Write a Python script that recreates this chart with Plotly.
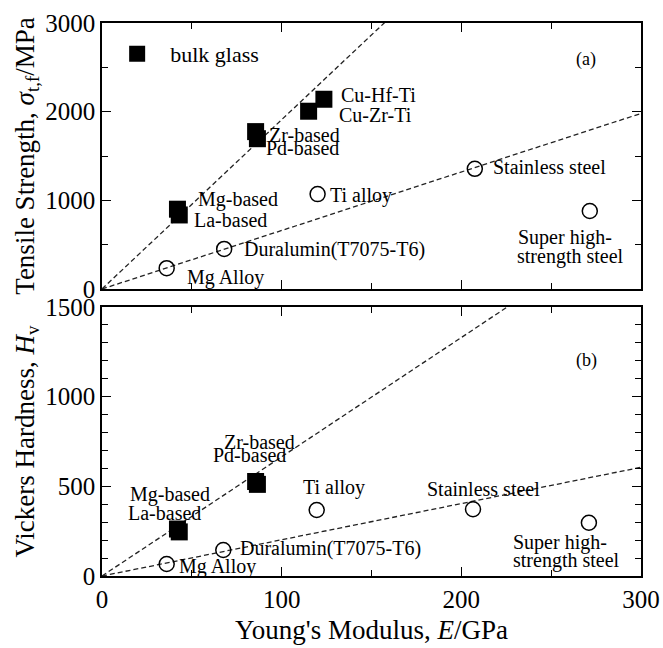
import plotly.graph_objects as go

# ---------------- data ----------------
# (a) Tensile strength vs Young's modulus
glass_names_a = ["Mg-based", "La-based", "Zr-based", "Pd-based", "Cu-Zr-Ti", "Cu-Hf-Ti"]
glass_E_a = [42, 43, 85.5, 86.5, 115, 123.5]          # GPa
glass_strength = [900, 835, 1775, 1695, 2005, 2140]     # MPa

cryst_names_a = ["Mg Alloy", "Duralumin(T7075-T6)", "Ti alloy", "Stainless steel",
                 "Super high-strength steel"]
cryst_E_a = [36, 68, 120, 207.5, 271.5]
cryst_strength = [235, 452, 1070, 1355, 880]

# (b) Vickers hardness vs Young's modulus
glass_names_b = ["Mg-based", "La-based", "Zr-based", "Pd-based"]
glass_E_b = [42, 43, 85.5, 86.5]
glass_hardness = [262, 246, 527, 511]

cryst_names_b = ["Mg Alloy", "Duralumin(T7075-T6)", "Ti alloy", "Stainless steel",
                 "Super high-strength steel"]
cryst_E_b = [36, 67.5, 119.5, 206.5, 271]
cryst_hardness = [67, 145, 368, 372, 297]

# slopes of the dashed guide lines (property / E)
strength_slopes = [19.1, 6.6]
hardness_slopes = [6.65, 2.02]

E_range = [0, 300]
strength_range = [0, 3000]
hardness_range = [0, 1500]
x_ticks = [0, 100, 200, 300]
strength_ticks = [0, 1000, 2000, 3000]
hardness_ticks = [0, 500, 1000, 1500]

# ---------------- styling ----------------
FONT = "Liberation Serif, Times New Roman, serif"
BLACK = "black"
LABEL_SIZE = 20

fig = go.Figure()


def guide(slope, xa, ya):
    xs = E_range
    ys = [slope * e for e in xs]
    return go.Scatter(x=xs, y=ys, mode="lines", xaxis=xa, yaxis=ya,
                      line=dict(color="#222222", width=1.3, dash="5px,3px"),
                      showlegend=False, hoverinfo="skip")


for s in strength_slopes:
    fig.add_trace(guide(s, "x", "y"))
for s in hardness_slopes:
    fig.add_trace(guide(s, "x2", "y2"))

sq = dict(symbol="square", size=17, color=BLACK, line=dict(width=0))
circ = dict(symbol="circle-open", size=15, color=BLACK, line=dict(width=1.5, color=BLACK))

fig.add_trace(go.Scatter(x=glass_E_a, y=glass_strength, mode="markers", marker=sq,
                         name="bulk glass", xaxis="x", yaxis="y", showlegend=True))
fig.add_trace(go.Scatter(x=cryst_E_a, y=cryst_strength, mode="markers", marker=circ,
                         xaxis="x", yaxis="y", showlegend=False))
fig.add_trace(go.Scatter(x=glass_E_b, y=glass_hardness, mode="markers", marker=sq,
                         xaxis="x2", yaxis="y2", showlegend=False))
fig.add_trace(go.Scatter(x=cryst_E_b, y=cryst_hardness, mode="markers", marker=circ,
                         xaxis="x2", yaxis="y2", showlegend=False))

# ---------------- point labels (pixel offsets from their points) ----------------
def label(x, y, text, xs, ys, xa, ya, anchor="left"):
    fig.add_annotation(x=x, y=y, xref=xa, yref=ya, text=text, showarrow=False,
                       xanchor=anchor, yanchor="middle", xshift=xs, yshift=ys,
                       font=dict(family=FONT, size=LABEL_SIZE, color=BLACK))


# panel (a)
a_offsets = {"Mg-based": (19, 10), "La-based": (13, -5), "Zr-based": (11, -3),
             "Pd-based": (7, -9), "Cu-Zr-Ti": (28, -4), "Cu-Hf-Ti": (15, 4)}
for n, e, v in zip(glass_names_a, glass_E_a, glass_strength):
    dx, dy = a_offsets[n]
    label(e, v, n, dx, dy, "x", "y")

a_c_offsets = {"Mg Alloy": (18, -9), "Duralumin(T7075-T6)": (18, -1), "Ti alloy": (10, -1),
               "Stainless steel": (16, 2)}
for n, e, v in zip(cryst_names_a, cryst_E_a, cryst_strength):
    if n in a_c_offsets:
        dx, dy = a_c_offsets[n]
        label(e, v, n, dx, dy, "x", "y")
    else:
        first, second = n.split("-", 1)
        label(e, v, first + "-", -74, -27, "x", "y")
        label(e, v, second, -75, -46, "x", "y")

# panel (b)
b_offsets = {"Mg-based": (35, 35, "right"), "La-based": (24, 19, "right"),
             "Zr-based": (-34, 40, "left"), "Pd-based": (-46, 29, "left")}
for n, e, v in zip(glass_names_b, glass_E_b, glass_hardness):
    dx, dy, anc = b_offsets[n]
    label(e, v, n, dx, dy, "x2", "y2", anc)

b_c_offsets = {"Mg Alloy": (10, -3), "Duralumin(T7075-T6)": (15, 2), "Ti alloy": (-16, 23),
               "Stainless steel": (-48, 20)}
for n, e, v in zip(cryst_names_b, cryst_E_b, cryst_hardness):
    if n in b_c_offsets:
        dx, dy = b_c_offsets[n]
        label(e, v, n, dx, dy, "x2", "y2")
    else:
        first, second = n.split("-", 1)
        label(e, v, first + "-", -78, -20, "x2", "y2")
        label(e, v, second, -78, -38, "x2", "y2")

# panel tags
fig.add_annotation(x=0.898, y=0.861, xref="x domain", yref="y domain", text="(a)",
                   xanchor="center", yanchor="middle",
                   showarrow=False, font=dict(family=FONT, size=18, color=BLACK))
fig.add_annotation(x=0.898, y=0.803, xref="x2 domain", yref="y2 domain", text="(b)",
                   xanchor="center", yanchor="middle",
                   showarrow=False, font=dict(family=FONT, size=18, color=BLACK))

# ---------------- axes ----------------
common = dict(showline=True, linewidth=1.5, linecolor=BLACK, mirror="ticks",
              ticks="inside", ticklen=9, tickwidth=1.3, tickcolor=BLACK,
              showgrid=False, zeroline=False, automargin=False,
              tickfont=dict(family=FONT, size=25, color=BLACK))
minor_common = dict(ticklen=6, ticks="inside", tickcolor=BLACK, tickwidth=1.3, showgrid=False)

fig.update_layout(
    width=663, height=648,
    margin=dict(l=102, r=22, t=23, b=72),
    paper_bgcolor="white", plot_bgcolor="white",
    font=dict(family=FONT, color=BLACK),
    xaxis=dict(domain=[0, 1], range=E_range, anchor="y", tickvals=x_ticks,
               showticklabels=False, minor=dict(dtick=50, **minor_common), **common),
    xaxis2=dict(domain=[0, 1], range=E_range, anchor="y2", matches="x", tickvals=x_ticks,
                minor=dict(dtick=50, **minor_common),
                title=dict(text="Young's Modulus, <i>E</i>/GPa",
                           font=dict(family=FONT, size=27, color=BLACK), standoff=8),
                **common),
    yaxis=dict(domain=[0.519, 1], range=strength_range, anchor="x", tickvals=strength_ticks,
               minor=dict(dtick=500, **minor_common),
               title=dict(text="Tensile Strength, <i>σ</i><sub>t,f</sub>/MPa",
                          font=dict(family=FONT, size=27, color=BLACK), standoff=3),
               **common),
    yaxis2=dict(domain=[0, 0.4864], range=hardness_range, anchor="x2", tickvals=hardness_ticks,
                minor=dict(dtick=100, **minor_common),
                title=dict(text="Vickers Hardness, <i>H</i><sub>v</sub>",
                           font=dict(family=FONT, size=27, color=BLACK), standoff=3),
                **common),
    legend=dict(x=0.004, y=0.944, xanchor="left", yanchor="middle",
                bgcolor="rgba(0,0,0,0)", borderwidth=0, itemwidth=56,
                font=dict(family=FONT, size=22, color=BLACK)),
    showlegend=True,
)

fig.write_html("out.html")
